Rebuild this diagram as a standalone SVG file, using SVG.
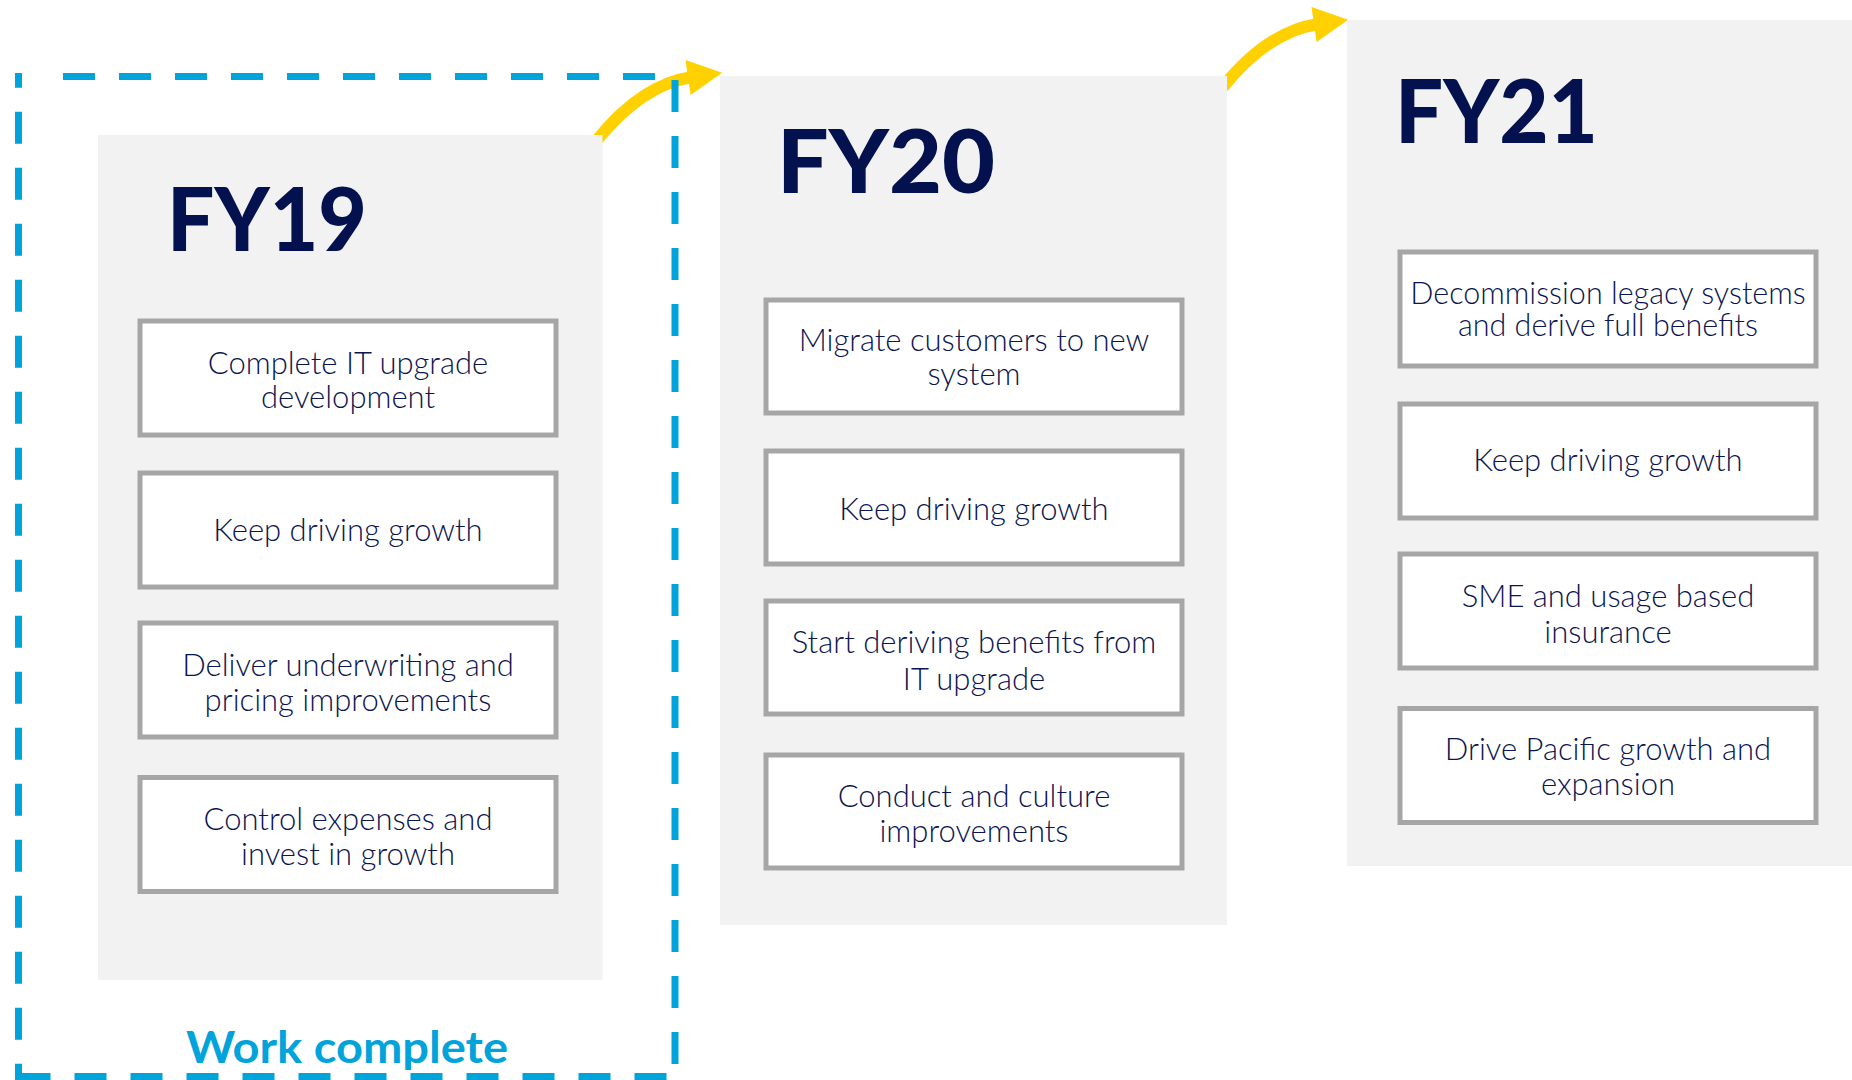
<svg xmlns="http://www.w3.org/2000/svg" width="1852" height="1080" viewBox="0 0 1852 1080">
  <style>
    .panel { fill: #f2f2f2; }
    .box { fill: #ffffff; stroke: #a6a6a6; stroke-width: 5; }
    .title { font-family: Lato, "Liberation Sans", sans-serif; font-weight: 900; font-size: 87px; fill: #03114f; }
    .item { font-family: Lato, "Liberation Sans", sans-serif; font-weight: 300; font-size: 31px; fill: #0b1550; text-anchor: middle; }
    .done { fill: none; stroke: #00a3da; stroke-width: 7; stroke-dasharray: 32 24; }
    .done-label { font-family: Lato, "Liberation Sans", sans-serif; font-weight: 700; font-size: 44px; fill: #00a3da; }
    .arrow-shaft { fill: none; stroke: #ffd100; stroke-width: 12; }
    .arrow-head { fill: #ffd100; }
  </style>
  <defs>
    <g id="curved-arrow">
      <path class="arrow-shaft" d="M 597 140 Q 641.6 84.8 691 77.2"/>
      <polygon class="arrow-head" points="722.2,72.7 685.5,60 690.6,95"/>
    </g>
  </defs>

  <rect width="1852" height="1080" fill="#ffffff"/>

  <!-- connectors between years -->
  <g id="connectors">
    <use href="#curved-arrow"/>
    <use href="#curved-arrow" transform="translate(626 -53)"/>
  </g>

  <!-- FY19 -->
  <g id="fy19">
    <rect class="panel" x="98" y="135" width="504.5" height="845"/>
    <text class="title" x="167" y="251" textLength="200" lengthAdjust="spacingAndGlyphs">FY19</text>
    <rect class="box" x="140" y="321" width="416" height="114"/>
    <text class="item" x="348" y="373.5">Complete IT upgrade</text>
    <text class="item" x="348" y="408">development</text>
    <rect class="box" x="140" y="473" width="416" height="114"/>
    <text class="item" x="348" y="541">Keep driving growth</text>
    <rect class="box" x="140" y="623" width="416" height="114"/>
    <text class="item" x="348" y="676">Deliver underwriting and</text>
    <text class="item" x="348" y="711">pricing improvements</text>
    <rect class="box" x="140" y="777.5" width="416" height="114"/>
    <text class="item" x="348" y="830">Control expenses and</text>
    <text class="item" x="348" y="864.5">invest in growth</text>
  </g>

  <!-- FY20 -->
  <g id="fy20">
    <rect class="panel" x="720" y="76" width="507" height="849"/>
    <text class="title" x="777" y="192.7" textLength="218" lengthAdjust="spacingAndGlyphs">FY20</text>
    <rect class="box" x="766" y="300" width="416" height="113"/>
    <text class="item" x="974" y="350.5">Migrate customers to new</text>
    <text class="item" x="974" y="384.5">system</text>
    <rect class="box" x="766" y="451" width="416" height="113"/>
    <text class="item" x="974" y="519.6">Keep driving growth</text>
    <rect class="box" x="766" y="601" width="416" height="113"/>
    <text class="item" x="974" y="653">Start deriving benefits from</text>
    <text class="item" x="974" y="690.4">IT upgrade</text>
    <rect class="box" x="766" y="755" width="416" height="113"/>
    <text class="item" x="974" y="806.5">Conduct and culture</text>
    <text class="item" x="974" y="841.8">improvements</text>
  </g>

  <!-- FY21 -->
  <g id="fy21">
    <rect class="panel" x="1347" y="20" width="505" height="846"/>
    <text class="title" x="1395" y="143.3" textLength="203" lengthAdjust="spacingAndGlyphs">FY21</text>
    <rect class="box" x="1400" y="252" width="416" height="114"/>
    <text class="item" x="1608" y="304" style="font-size:30.5px">Decommission legacy systems</text>
    <text class="item" x="1608" y="335.7" style="font-size:30.5px">and derive full benefits</text>
    <rect class="box" x="1400" y="404" width="416" height="114"/>
    <text class="item" x="1608" y="470.7">Keep driving growth</text>
    <rect class="box" x="1400" y="554" width="416" height="114"/>
    <text class="item" x="1608" y="606.7">SME and usage based</text>
    <text class="item" x="1608" y="643.3">insurance</text>
    <rect class="box" x="1400" y="708.5" width="416" height="114"/>
    <text class="item" x="1608" y="760">Drive Pacific growth and</text>
    <text class="item" x="1608" y="795">expansion</text>
  </g>

  <!-- completed-work frame around FY19 -->
  <g id="work-complete">
    <line class="done" x1="63" y1="76.5" x2="672" y2="76.5"/>
    <line class="done" x1="675" y1="80" x2="675" y2="1076"/>
    <line class="done" x1="18.5" y1="1076.5" x2="672" y2="1076.5"/>
    <line class="done" x1="18.5" y1="73" x2="18.5" y2="1080" stroke-dashoffset="17.3"/>
    <text class="done-label" x="186" y="1062.7" textLength="322" lengthAdjust="spacingAndGlyphs">Work complete</text>
  </g>
</svg>
